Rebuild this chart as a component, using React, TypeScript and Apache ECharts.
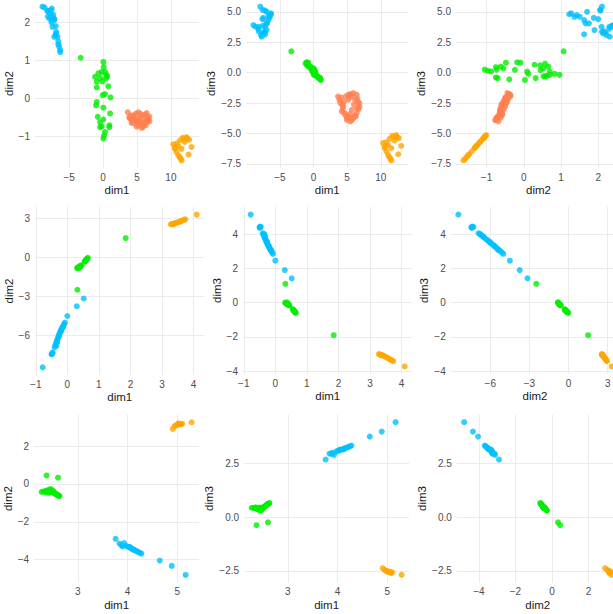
import React, { useEffect, useRef } from "react";
import * as echarts from "echarts";

// ---------- data: each point is [dim1, dim2, dim3] ----------
// Row 1
const row1Blue = [
  [-8.93, 2.41, 3.91], [-8.63, 2.39, 3.77], [-8.19, 2.3, 3.6], [-8.14, 2.15, 3.4],
  [-7.9, 2.1, 5.42], [-7.55, 2.05, 5.15], [-7.55, 2.36, 3.85], [-7.8, 2.22, 3.09],
  [-7.68, 2.31, 2.95], [-7.44, 2.13, 3.23], [-7.3, 2.1, 3.36], [-7.19, 2.09, 3.77],
  [-7.19, 2.06, 5.1], [-7.44, 1.88, 4.5], [-6.96, 1.9, 3.5], [-7.0, 1.66, 4.05],
  [-6.7, 1.62, 4.32], [-6.95, 1.7, 5.0], [-6.6, 1.42, 4.73], [-6.47, 1.36, 4.59],
  [-6.32, 1.27, 4.87], [-6.32, 1.22, 4.8], [-7.19, 1.62, 3.15], [-8.19, 2.3, 3.77],
  [-6.9, 1.75, 4.05], [-6.6, 1.5, 4.6], [-7.6, 2.0, 4.4], [-7.35, 2.2, 3.3],
];
const row1Green = [
  [-3.3, 1.07, 1.75],
  [0.05, 0.96, -0.18], [0.1, 0.83, -0.1], [-0.19, 0.7, 0.09], [-1.18, 0.57, 0.75],
  [-0.69, 0.66, 0.5], [-0.44, 0.53, 0.36], [-0.93, 0.44, 0.6], [0.29, 0.7, -0.18],
  [0.44, 0.53, -0.3], [-0.93, 0.29, 0.65], [0.78, 0.32, -0.45], [0.29, 0.12, -0.1],
  [-0.05, 0.09, 0.09], [1.1, 0.03, -0.6], [-0.93, -0.09, 0.82], [-1.03, -0.18, 0.85],
  [0.05, -0.24, 0.23], [1.03, -0.39, -0.55], [-0.78, -0.48, 0.82], [0.05, -0.55, 0.36],
  [-0.44, -0.62, 0.5], [0.93, -0.7, -0.45], [0.93, -0.75, -0.4], [-0.19, -0.73, 0.25],
  [0.3, -0.88, 0.1], [0.15, -0.97, 0.15], [0.05, -1.05, 0.25], [-0.44, -0.75, 0.45],
  [0.5, 0.62, -0.25], [0.6, 0.58, -0.32], [-0.1, 0.45, 0.2],
];
const row1Coral = [
  [3.65, -0.36, -1.96], [3.85, -0.5, -2.23], [5.19, -0.36, -1.82], [5.93, -0.44, -1.68],
  [6.43, -0.38, -1.82], [5.19, -0.52, -2.23], [6.82, -0.47, -2.5], [6.43, -0.62, -2.91],
  [4.44, -0.5, -2.78], [4.2, -0.64, -3.19], [4.7, -0.58, -3.46], [4.95, -0.74, -3.87],
  [5.44, -0.68, -4.0], [5.93, -0.74, -3.73], [6.43, -0.58, -3.32], [5.69, -0.64, -3.05],
  [4.8, -0.4, -1.95], [5.6, -0.49, -2.0], [6.2, -0.43, -2.2], [6.6, -0.55, -2.4],
  [4.5, -0.45, -2.4], [4.3, -0.56, -2.6], [5.2, -0.7, -3.6], [6.1, -0.66, -3.5],
  [6.7, -0.54, -3.0], [4.6, -0.65, -3.3], [5.7, -0.77, -3.9], [6.5, -0.5, -2.1],
  [4.0, -0.52, -2.5], [6.0, -0.6, -2.6], [5.4, -0.58, -3.4], [4.1, -0.44, -2.05],
  [6.85, -0.6, -2.8], [5.0, -0.62, -3.7], [6.3, -0.7, -3.6], [4.35, -0.6, -2.95],
  [5.5, -0.4, -1.75],
];
const row1Orange = [
  [10.34, -1.2, -5.78], [10.59, -1.32, -6.19], [10.83, -1.4, -6.46], [11.08, -1.49, -6.77],
  [11.32, -1.54, -6.94], [11.57, -1.62, -7.2], [10.83, -1.18, -5.71], [11.32, -1.1, -5.44],
  [11.72, -1.03, -5.2], [12.3, -1.01, -5.13], [12.69, -1.08, -5.37], [12.06, -1.14, -5.58],
  [12.6, -1.47, -6.7], [13.04, -1.27, -6.02], [11.08, -1.25, -5.95], [11.57, -1.32, -6.19],
  [12.4, -1.05, -5.27], [11.9, -1.06, -5.3], [10.64, -1.28, -6.05], [11.45, -1.58, -7.1],
];

// Row 2
const row2Blue = [
  [-0.78, -8.45, 5.14], [-0.5, -7.45, 4.4], [-0.48, -7.38, 4.44], [-0.46, -7.3, 4.42],
  [-0.49, -7.42, 4.36], [-0.4, -6.9, 4.05], [-0.38, -6.75, 3.98], [-0.36, -6.62, 3.9],
  [-0.34, -6.5, 3.82], [-0.33, -6.38, 3.74], [-0.3, -6.25, 3.66], [-0.29, -6.12, 3.58],
  [-0.27, -6.0, 3.5], [-0.25, -5.88, 3.42], [-0.23, -5.75, 3.35], [-0.21, -5.62, 3.27],
  [-0.18, -5.5, 3.18], [-0.16, -5.38, 3.1], [-0.13, -5.25, 3.02], [-0.1, -5.12, 2.94],
  [-0.08, -5.0, 2.85], [-0.32, -6.55, 3.85], [-0.26, -6.05, 3.55], [-0.2, -5.7, 3.3],
  [-0.14, -5.4, 3.08], [-0.35, -6.8, 4.0], [0.0, -4.5, 2.45], [0.3, -3.75, 1.9],
  [0.52, -3.15, 1.42],
];
const row2Green = [
  [0.32, -2.48, 1.1], [1.85, 1.5, -1.9],
  [0.31, -0.82, 0.0], [0.33, -0.78, -0.02], [0.35, -0.75, -0.05], [0.37, -0.72, -0.08],
  [0.39, -0.7, -0.1], [0.41, -0.66, -0.12], [0.43, -0.63, -0.14], [0.45, -0.6, -0.16],
  [0.36, -0.8, 0.02], [0.4, -0.76, -0.04],
  [0.55, -0.3, -0.38], [0.57, -0.25, -0.42], [0.59, -0.2, -0.46], [0.61, -0.15, -0.5],
  [0.63, -0.08, -0.55], [0.65, -0.02, -0.6], [0.58, -0.28, -0.45], [0.62, -0.12, -0.56],
];
const row2Orange = [
  [3.28, 2.55, -3.0], [3.32, 2.58, -3.02], [3.36, 2.6, -3.05], [3.4, 2.63, -3.08],
  [3.45, 2.67, -3.12], [3.5, 2.71, -3.17], [3.55, 2.75, -3.22], [3.6, 2.8, -3.27],
  [3.65, 2.85, -3.32], [3.7, 2.9, -3.37], [3.74, 2.94, -3.42], [3.35, 2.55, -3.06],
  [4.1, 3.3, -3.72],
];

// Row 3
const row3Blue = [
  [3.76, -2.9, 2.68], [3.84, -3.15, 2.96], [3.88, -3.24, 2.94], [3.93, -3.12, 2.9],
  [3.9, -3.3, 3.0], [3.98, -3.28, 3.06], [4.01, -3.32, 3.09], [4.04, -3.36, 3.12],
  [4.07, -3.4, 3.14], [4.1, -3.44, 3.16], [4.13, -3.48, 3.19], [4.16, -3.52, 3.21],
  [4.19, -3.56, 3.24], [4.22, -3.6, 3.27], [4.25, -3.64, 3.3], [4.28, -3.68, 3.33],
  [4.05, -3.33, 3.14], [4.12, -3.47, 3.15], [4.65, -4.05, 3.75], [4.89, -4.33, 3.98],
  [5.17, -4.81, 4.42],
];
const row3Green = [
  [2.37, 0.45, -0.37], [2.6, 0.33, -0.24],
  [2.27, -0.42, 0.44], [2.31, -0.4, 0.43], [2.34, -0.38, 0.42], [2.38, -0.35, 0.38],
  [2.42, -0.3, 0.33], [2.46, -0.27, 0.3], [2.5, -0.36, 0.4], [2.44, -0.45, 0.45],
  [2.52, -0.46, 0.48], [2.55, -0.5, 0.52], [2.57, -0.55, 0.56], [2.6, -0.6, 0.62],
  [2.63, -0.64, 0.66], [2.58, -0.58, 0.6], [2.62, -0.62, 0.64], [2.35, -0.44, 0.46],
  [2.41, -0.47, 0.44], [2.48, -0.42, 0.42], [2.53, -0.52, 0.5],
];
const row3Orange = [
  [4.91, 2.91, -2.37], [4.95, 3.05, -2.45], [4.98, 3.1, -2.5], [5.0, 3.12, -2.52],
  [5.03, 3.15, -2.55], [5.06, 3.18, -2.55], [5.1, 3.18, -2.56], [5.08, 3.15, -2.6],
  [5.02, 3.2, -2.52], [5.29, 3.26, -2.68],
];

// ---------- tick values ----------
const ticksR1Dim1 = [-5, 0, 5, 10];
const ticksR1Dim2 = [-1, 0, 1, 2];
const ticksR1Dim3 = [-7.5, -5, -2.5, 0, 2.5, 5];
const ticksR2Dim1 = [-1, 0, 1, 2, 3, 4];
const ticksR2Dim2 = [-6, -3, 0, 3];
const ticksR2Dim3 = [-4, -2, 0, 2, 4];
const ticksR3Dim1 = [3, 4, 5];
const ticksR3Dim2 = [-4, -2, 0, 2];
const ticksR3Dim3 = [-2.5, 0, 2.5];

const dimNames = ["dim1", "dim2", "dim3"];

const COLORS = {
  blue: "#00BFFF",
  green: "#00EE00",
  coral: "#FF7F50",
  orange: "#FFA500",
};

type Pt = number[];
type Row = { clusters: { pts: Pt[]; color: string }[]; ticks: number[][]; digits: number[] };

const rows: Row[] = [
  {
    clusters: [
      { pts: row1Blue, color: COLORS.blue },
      { pts: row1Green, color: COLORS.green },
      { pts: row1Coral, color: COLORS.coral },
      { pts: row1Orange, color: COLORS.orange },
    ],
    ticks: [ticksR1Dim1, ticksR1Dim2, ticksR1Dim3],
    digits: [0, 0, 1],
  },
  {
    clusters: [
      { pts: row2Blue, color: COLORS.blue },
      { pts: row2Green, color: COLORS.green },
      { pts: row2Orange, color: COLORS.orange },
    ],
    ticks: [ticksR2Dim1, ticksR2Dim2, ticksR2Dim3],
    digits: [0, 0, 0],
  },
  {
    clusters: [
      { pts: row3Blue, color: COLORS.blue },
      { pts: row3Green, color: COLORS.green },
      { pts: row3Orange, color: COLORS.orange },
    ],
    ticks: [ticksR3Dim1, ticksR3Dim2, ticksR3Dim3],
    digits: [0, 0, 1],
  },
];

// panel layout: [row, xDim, yDim, left, top, width, height, yNameGap]
const panels: number[][] = [
  [0, 0, 1, 35, -1, 164, 169, 13],
  [0, 0, 2, 246, -1, 162.6, 169, 24],
  [0, 1, 2, 456, -1, 165, 169, 23],
  [1, 0, 1, 35, 207, 169.4, 168, 13],
  [1, 0, 2, 243, 207, 169.4, 167, 15],
  [1, 1, 2, 450.7, 207, 168.6, 167, 16],
  [2, 0, 1, 34.1, 414.6, 165, 168, 12.5],
  [2, 0, 2, 244.1, 414.5, 165, 168, 21.5],
  [2, 1, 2, 456.8, 414.5, 162, 168, 22.5],
];

const FONT = "'Liberation Sans', Arial, sans-serif";

function extent(row: Row, d: number): [number, number] {
  let lo = Infinity;
  let hi = -Infinity;
  row.clusters.forEach((c) =>
    c.pts.forEach((p) => {
      lo = Math.min(lo, p[d]);
      hi = Math.max(hi, p[d]);
    })
  );
  const pad = (hi - lo) * 0.05;
  return [lo - pad, hi + pad];
}

const fmt = (digits: number) => (v: number) => {
  const s = Number(v).toFixed(digits);
  return s.replace("-", "\u2212");
};

function buildOption() {
  const grid: any[] = [];
  const xAxis: any[] = [];
  const yAxis: any[] = [];
  const series: any[] = [];

  panels.forEach((pn, i) => {
    const [r, xd, yd, left, top, width, height, yGap] = pn;
    const row = rows[r];
    grid.push({ left, top, width, height, outerBoundsMode: "none", containLabel: false });
    const [xMin, xMax] = extent(row, xd);
    const [yMin, yMax] = extent(row, yd);
    const common = (ticks: number[], digits: number) => ({
      type: "value",
      axisLine: { show: false },
      axisTick: { show: false, customValues: ticks },
      axisLabel: {
        customValues: ticks,
        formatter: fmt(digits),
        color: "#4D4D4D",
        fontSize: 10,
        fontFamily: FONT,
        showMinLabel: true,
        showMaxLabel: true,
      },
      splitLine: { show: true, lineStyle: { color: "#EBEBEB", width: 1 } },
      nameLocation: "middle",
      nameTextStyle: { color: "#1A1A1A", fontSize: 11.5, fontFamily: FONT },
    });
    xAxis.push({
      ...common(row.ticks[xd], row.digits[xd]),
      gridIndex: i,
      min: xMin,
      max: xMax,
      name: dimNames[xd],
      nameGap: 16,
      axisLabel: { ...common(row.ticks[xd], row.digits[xd]).axisLabel, margin: 4 },
    });
    yAxis.push({
      ...common(row.ticks[yd], row.digits[yd]),
      gridIndex: i,
      min: yMin,
      max: yMax,
      name: dimNames[yd],
      nameGap: yGap,
      axisLabel: { ...common(row.ticks[yd], row.digits[yd]).axisLabel, margin: 5 },
    });
    row.clusters.forEach((c) => {
      series.push({
        type: "scatter",
        xAxisIndex: i,
        yAxisIndex: i,
        symbol: "circle",
        symbolSize: 6,
        silent: true,
        itemStyle: { color: c.color, opacity: 0.8 },
        data: c.pts.map((p) => [p[xd], p[yd]]),
      });
    });
  });

  return {
    animation: false,
    backgroundColor: "#FFFFFF",
    grid,
    xAxis,
    yAxis,
    series,
  };
}

export default function App() {
  const ref = useRef<HTMLDivElement>(null);
  useEffect(() => {
    if (!ref.current) return;
    const chart = echarts.init(ref.current, undefined, { renderer: "svg" });
    chart.setOption(buildOption() as any);
    return () => chart.dispose();
  }, []);
  return (
    <div
      ref={ref}
      style={{ position: "absolute", left: 0, top: 0, width: 613, height: 614, background: "#fff" }}
    />
  );
}
